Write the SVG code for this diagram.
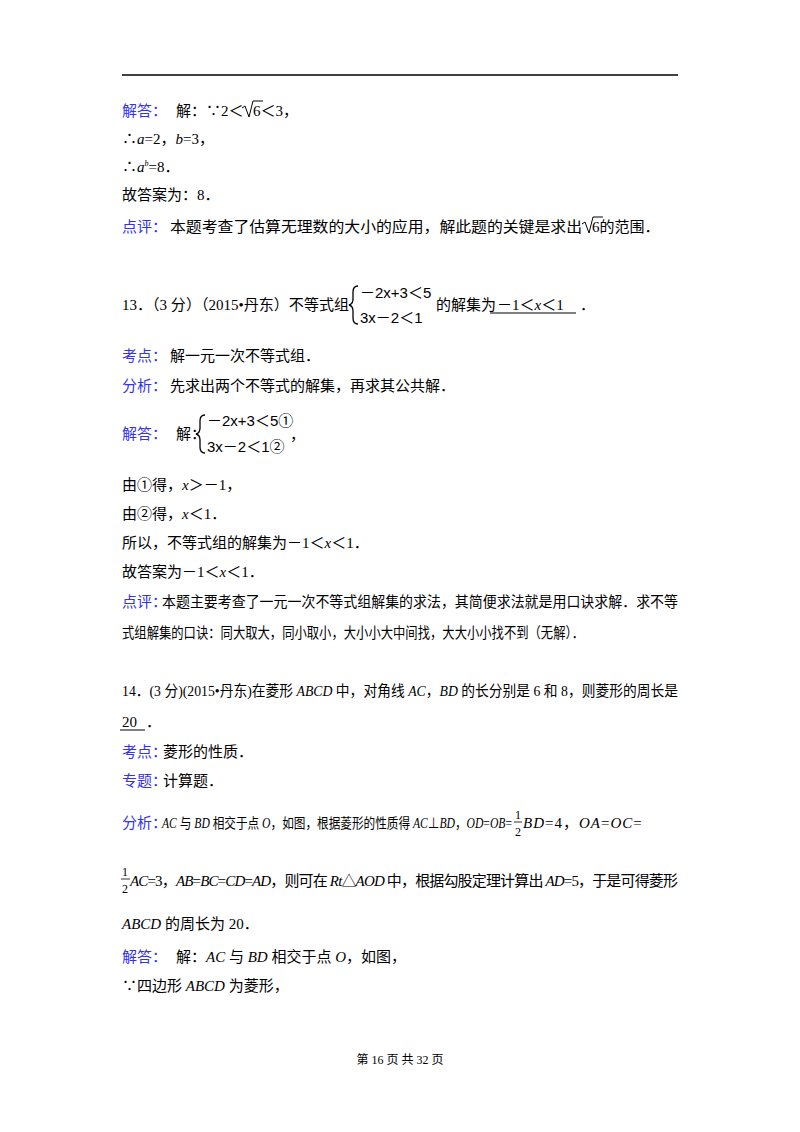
<svg xmlns="http://www.w3.org/2000/svg" width="800" height="1132" viewBox="0 0 800 1132">
<style>
text{font-family:"Liberation Serif","Noto Sans CJK SC",serif;font-size:15px;fill:#000}
.b{fill:#3333ee}
.i{font-style:italic}
.s{font-family:"Liberation Sans","Noto Sans CJK SC",sans-serif;font-size:15px}
.f{font-size:12px}
.sup{font-size:8px}
.ft{font-size:12px}
</style>
<rect width="800" height="1132" fill="#fff"/>
<line x1="122" y1="75" x2="678" y2="75" stroke="#000" stroke-width="1.5"/>
<text x="122" y="116" class="b">解答：</text>
<text x="176" y="116">解：∵2＜</text>
<path d="M242,108 l3,-2 l4,11 l4,-16 h10" fill="none" stroke="#000" stroke-width="1"/>
<text x="253" y="116">6＜3，</text>
<text x="122" y="144">∴<tspan class="i">a</tspan>=2，<tspan class="i">b</tspan>=3，</text>
<text x="122" y="172">∴<tspan class="i">a</tspan><tspan class="i sup" dy="-6">b</tspan><tspan dy="6">=8．</tspan></text>
<text x="122" y="200">故答案为：8．</text>
<text x="122" y="232" class="b">点评：</text>
<text x="170" y="232" textLength="412" lengthAdjust="spacingAndGlyphs">本题考查了估算无理数的大小的应用，解此题的关键是求出</text>
<path d="M582,224 l3,-2 l4,11 l4,-16 h10" fill="none" stroke="#000" stroke-width="1"/>
<text x="592" y="232">6的范围．</text>

<text x="122" y="310" textLength="227" lengthAdjust="spacingAndGlyphs">13．（3 分）（2015•丹东）不等式组</text>
<path d="M358,286 q-5,0 -5,6 v7 q0,5 -4,6 q4,1 4,6 v7 q0,6 5,6" fill="none" stroke="#000" stroke-width="1.3"/>
<text x="360" y="298" class="s">－2x+3＜5</text>
<text x="360" y="323" class="s">3x－2＜1</text>
<text x="436" y="310">的解集为</text>
<text x="497" y="310">－1＜<tspan class="i">x</tspan>＜1</text>
<line x1="490" y1="313" x2="576" y2="313" stroke="#000" stroke-width="1"/>
<text x="580" y="310">．</text>

<text x="122" y="361" class="b">考点：</text>
<text x="170" y="361">解一元一次不等式组．</text>
<text x="122" y="391" class="b">分析：</text>
<text x="170" y="391">先求出两个不等式的解集，再求其公共解．</text>

<text x="122" y="439" class="b">解答：</text>
<text x="176" y="439">解：</text>
<path d="M205,415 q-5,0 -5,6 v7 q0,5 -4,6 q4,1 4,6 v7 q0,6 5,6" fill="none" stroke="#000" stroke-width="1.3"/>
<text x="207" y="426" class="s">－2x+3＜5①</text>
<text x="207" y="452" class="s">3x－2＜1②</text>
<text x="290" y="440">，</text>

<text x="122" y="490">由①得，<tspan class="i">x</tspan>＞－1，</text>
<text x="122" y="519">由②得，<tspan class="i">x</tspan>＜1．</text>
<text x="122" y="548">所以，不等式组的解集为－1＜<tspan class="i">x</tspan>＜1．</text>
<text x="122" y="577">故答案为－1＜<tspan class="i">x</tspan>＜1．</text>
<text x="122" y="607" class="b">点评：</text>
<text x="162" y="607" textLength="516" lengthAdjust="spacingAndGlyphs">本题主要考查了一元一次不等式组解集的求法，其简便求法就是用口诀求解．求不等</text>
<text x="122" y="638" textLength="462" lengthAdjust="spacingAndGlyphs">式组解集的口诀：同大取大，同小取小，大小小大中间找，大大小小找不到（无解）．</text>

<text x="122" y="696" textLength="556" lengthAdjust="spacingAndGlyphs">14．(3 分)(2015•丹东)在菱形 <tspan class="i">ABCD</tspan> 中，对角线 <tspan class="i">AC</tspan>，<tspan class="i">BD</tspan> 的长分别是 6 和 8，则菱形的周长是</text>
<text x="122" y="727">20</text>
<line x1="120" y1="730" x2="145" y2="730" stroke="#000" stroke-width="1"/>
<text x="146" y="727">．</text>
<text x="122" y="757" class="b">考点：</text>
<text x="163" y="757">菱形的性质．</text>
<text x="122" y="786" class="b">专题：</text>
<text x="163" y="786">计算题．</text>

<text x="122" y="828" class="b">分析：</text>
<text x="162" y="828" style="font-size:14px" textLength="350" lengthAdjust="spacingAndGlyphs"><tspan class="i">AC</tspan> 与 <tspan class="i">BD</tspan> 相交于点 <tspan class="i">O</tspan>，如图，根据菱形的性质得 <tspan class="i">AC</tspan>⊥<tspan class="i">BD</tspan>，<tspan class="i">OD</tspan>=<tspan class="i">OB</tspan>=</text>
<text x="515" y="819" class="f">1</text>
<line x1="514" y1="822" x2="522" y2="822" stroke="#000" stroke-width="0.8"/>
<text x="515" y="836" class="f">2</text>
<text x="523" y="828" style="font-size:15px;letter-spacing:1px"><tspan class="i">BD</tspan>=4，<tspan class="i">OA</tspan>=<tspan class="i">OC</tspan>=</text>

<text x="122" y="876" class="f">1</text>
<line x1="121" y1="879" x2="130" y2="879" stroke="#000" stroke-width="0.8"/>
<text x="122" y="893" class="f">2</text>
<text x="130" y="886" textLength="548" lengthAdjust="spacing"><tspan class="i">AC</tspan>=3，<tspan class="i">AB</tspan>=<tspan class="i">BC</tspan>=<tspan class="i">CD</tspan>=<tspan class="i">AD</tspan>，则可在 <tspan class="i">Rt</tspan>△<tspan class="i">AOD</tspan> 中，根据勾股定理计算出 <tspan class="i">AD</tspan>=5，于是可得菱形</text>
<text x="122" y="929"><tspan class="i">ABCD</tspan> 的周长为 20．</text>
<text x="122" y="962" class="b">解答：</text>
<text x="176" y="962"><tspan>解：</tspan><tspan class="i">AC</tspan> 与 <tspan class="i">BD</tspan> 相交于点 <tspan class="i">O</tspan>，如图，</text>
<text x="122" y="991">∵四边形 <tspan class="i">ABCD</tspan> 为菱形，</text>

<text x="400" y="1064" class="ft" text-anchor="middle">第 16 页 共 32 页</text>
</svg>
